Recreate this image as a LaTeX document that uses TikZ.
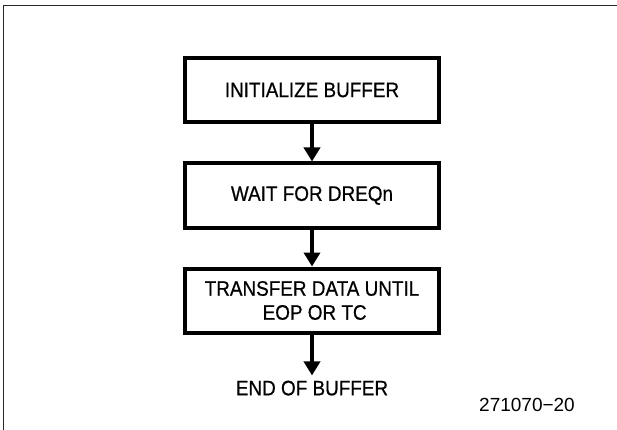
\documentclass[tikz,border=0pt]{standalone}
\usepackage{fontspec}
\setmainfont{Liberation Sans}
\newfontfamily\plotfont[FakeStretch=0.9,FakeBold=0.6]{Liberation Sans}
\usetikzlibrary{arrows.meta}
\begin{document}
\begin{tikzpicture}[x=1pt,y=-1pt,
  lbl/.style={font=\plotfont\fontsize{21}{24}\selectfont},
  stepbox/.style={lbl,draw=black,line width=4pt,minimum width=254pt,minimum height=64pt,
    inner sep=0pt,align=center},
  arr/.style={line width=4pt,-{Triangle[width=16pt,length=14pt]}},
  frameline/.style={line width=1.6pt,color=black!85}]
\useasboundingbox (0,0) rectangle (617,430);
\fill[white] (0,0) rectangle (617,430);
\coordinate (fa) at (3.5,430);
\coordinate (fb) at (3.5,5.5);
\coordinate (fc) at (617,5.5);
\draw[frameline] (fa) -- (fb) -- (fc);
\node[stepbox] (b1) at (312,90) {INITIALIZE BUFFER};
\node[stepbox] (b2) at (312,195.5) {WAIT FOR DREQn};
\node[stepbox] (b3) at (312,300.5) {TRANSFER DATA UNTIL\\\ EOP OR TC};
\node[lbl,inner sep=5pt,text depth=0pt] (end) at (312,388) {END OF BUFFER};
\node[font=\fontsize{19}{24}\selectfont,inner sep=0pt] (id) at (527,405) {271070−20};
\draw[arr] (b1.south) -- (b2.north);
\draw[arr] (b2.south) -- (b3.north);
\draw[arr] (b3.south) -- (end.north);
\end{tikzpicture}
\end{document}
